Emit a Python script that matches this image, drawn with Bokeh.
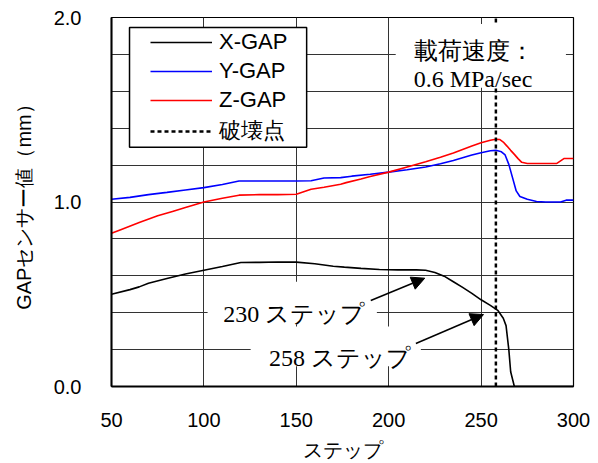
from bokeh.plotting import figure
from bokeh.models import (Range1d, FixedTicker, BoxAnnotation, Label, Arrow, NormalHead,
                          Legend, LegendItem, CustomJSTickFormatter)
from bokeh.embed import file_html
from bokeh.resources import INLINE

# ---- data ----
x_steps = [50, 60, 65, 70, 80, 90, 100, 110, 120, 130, 140, 150, 160, 170, 176, 185, 195,
           205, 215, 220, 225, 230, 235, 240, 245, 250, 255, 259, 262, 263.5, 265, 266, 268, 300]
x_gap = [0.50, 0.525, 0.54, 0.56, 0.585, 0.61, 0.63, 0.65, 0.672, 0.673, 0.675, 0.674, 0.665,
         0.652, 0.647, 0.64, 0.634, 0.632, 0.632, 0.63, 0.618, 0.598, 0.568, 0.537, 0.505,
         0.47, 0.44, 0.413, 0.37, 0.33, 0.20, 0.08, 0.0, 0.0]

y_steps = [50, 60, 70, 80, 90, 100, 110, 119, 130, 140, 150, 158, 165, 174, 180, 190, 200, 210,
           220, 228, 235, 240, 245, 250, 255, 258, 261, 263, 265, 267, 269, 271, 275, 280, 285,
           290, 293, 296, 300]
y_gap = [1.015, 1.025, 1.04, 1.052, 1.065, 1.078, 1.095, 1.114, 1.114, 1.114, 1.114, 1.115,
         1.13, 1.132, 1.14, 1.15, 1.162, 1.175, 1.19, 1.207, 1.225, 1.24, 1.255, 1.267, 1.278,
         1.28, 1.272, 1.255, 1.204, 1.132, 1.06, 1.03, 1.015, 1.003, 1.0, 1.0, 1.0, 1.01, 1.01]

z_steps = [50, 55, 65, 75, 83, 90, 100, 110, 119, 130, 140, 150, 158, 165, 174, 177, 185, 190,
           200, 210, 220, 228, 235, 240, 245, 250, 255, 258, 260, 262, 264, 266, 268, 270, 272,
           275, 285, 291, 295, 300]
z_gap = [0.83, 0.85, 0.889, 0.925, 0.949, 0.97, 1.0, 1.02, 1.037, 1.04, 1.04, 1.042, 1.069,
         1.08, 1.096, 1.105, 1.125, 1.138, 1.162, 1.19, 1.218, 1.243, 1.266, 1.285, 1.303,
         1.321, 1.335, 1.34, 1.339, 1.325, 1.303, 1.28, 1.258, 1.235, 1.215, 1.209, 1.209,
         1.209, 1.236, 1.236]

break_step = [258, 258]
break_range = [0.0, 2.0]

x_ticks = [50, 100, 150, 200, 250, 300]
y_ticks = [0.0, 1.0, 2.0]
y_grid = [0.2, 0.4, 0.6, 0.8, 1.0, 1.2, 1.4, 1.6, 1.8]
series_names = ["X-GAP", "Y-GAP", "Z-GAP", "破壊点"]

p = figure(width=598, height=463, output_backend="svg", toolbar_location=None,
           x_range=Range1d(50, 300), y_range=Range1d(0, 2),
           min_border_left=111, min_border_right=25, min_border_top=17, min_border_bottom=75)
p.background_fill_color = "white"
p.border_fill_color = "white"
p.outline_line_color = "black"
p.outline_line_width = 1.2

# axes
p.xaxis.ticker = FixedTicker(ticks=x_ticks)
p.yaxis.ticker = FixedTicker(ticks=y_ticks)
p.yaxis.formatter = CustomJSTickFormatter(code="return tick.toFixed(1)")
for ax in (p.xaxis, p.yaxis):
    ax.major_tick_line_color = None
    ax.minor_tick_line_color = None
    ax.axis_line_color = "black"
    ax.axis_line_width = 2
    ax.major_label_text_font = "Liberation Sans"
    ax.major_label_text_font_size = "20px"
    ax.major_label_text_color = "black"
    ax.axis_label_text_font = "Liberation Sans"
    ax.axis_label_text_font_size = "20px"
    ax.axis_label_text_font_style = "normal"
    ax.axis_label_text_color = "black"
p.xaxis.axis_label = "ステップ"
p.yaxis.axis_label = "GAPセンサー値（mm）"
p.xaxis.major_label_standoff = 20
p.yaxis.major_label_standoff = 24
p.xaxis.axis_label_standoff = 9
p.yaxis.axis_label_standoff = 16

# grid
p.xgrid.ticker = FixedTicker(ticks=x_ticks)
p.ygrid.ticker = FixedTicker(ticks=y_grid)
for g in (p.xgrid, p.ygrid):
    g.grid_line_color = "#333333"
    g.grid_line_width = 1

# data lines
rx = p.line(x_steps, x_gap, line_color="black", line_width=1.6)
ry = p.line(y_steps, y_gap, line_color="#0000FF", line_width=1.6)
rz = p.line(z_steps, z_gap, line_color="#FF0000", line_width=1.6)
rb = p.line(break_step, break_range, line_color="black", line_width=2.5, line_dash="4 3")

# white boxes behind texts
def white_box(l, r, t, b, border=False):
    box = BoxAnnotation(left=l, right=r, top=t, bottom=b, fill_color="white", fill_alpha=1.0,
                        line_color="black" if border else None,
                        line_width=1.5 if border else 0, line_alpha=1.0 if border else 0)
    p.add_layout(box)

white_box(59.75, 155.6, 1.946, 1.297, border=True)   # legend box
white_box(203.8, 295.9, 1.965, 1.619)                 # rate text
white_box(102.0, 193.6, 0.568, 0.336)                 # 230 step
white_box(125.3, 217.4, 0.325, 0.110)                 # 258 step

def serif_label(x, y, text):
    p.add_layout(Label(x=x, y=y, text=text, text_font="Liberation Serif", text_font_size="24px",
                       text_color="black", text_baseline="alphabetic", text_align="left"))

serif_label(213.6, 1.817, "載荷速度：")
serif_label(213.5, 1.667, "0.6 MPa/sec")
serif_label(110.5, 0.395, "230 ステップ")
serif_label(135.2, 0.156, "258 ステップ")

p.add_layout(Arrow(end=NormalHead(size=13, fill_color="black", line_color="black"),
                   x_start=190.3, y_start=0.466, x_end=219.5, y_end=0.587,
                   line_color="black", line_width=1.5))
p.add_layout(Arrow(end=NormalHead(size=13, fill_color="black", line_color="black"),
                   x_start=214.7, y_start=0.233, x_end=251.3, y_end=0.39,
                   line_color="black", line_width=1.5))

legend = Legend(items=[LegendItem(label=n, renderers=[r])
                       for n, r in zip(series_names, [rx, ry, rz, rb])],
                location=(39, 240), padding=0, margin=0, spacing=3,
                glyph_width=62, glyph_height=22, label_height=22, label_standoff=7,
                label_text_font="Liberation Sans", label_text_font_size="22px",
                label_text_color="black",
                border_line_alpha=0, background_fill_alpha=0)
p.add_layout(legend)

open("out.html", "w").write(file_html(p, INLINE))
